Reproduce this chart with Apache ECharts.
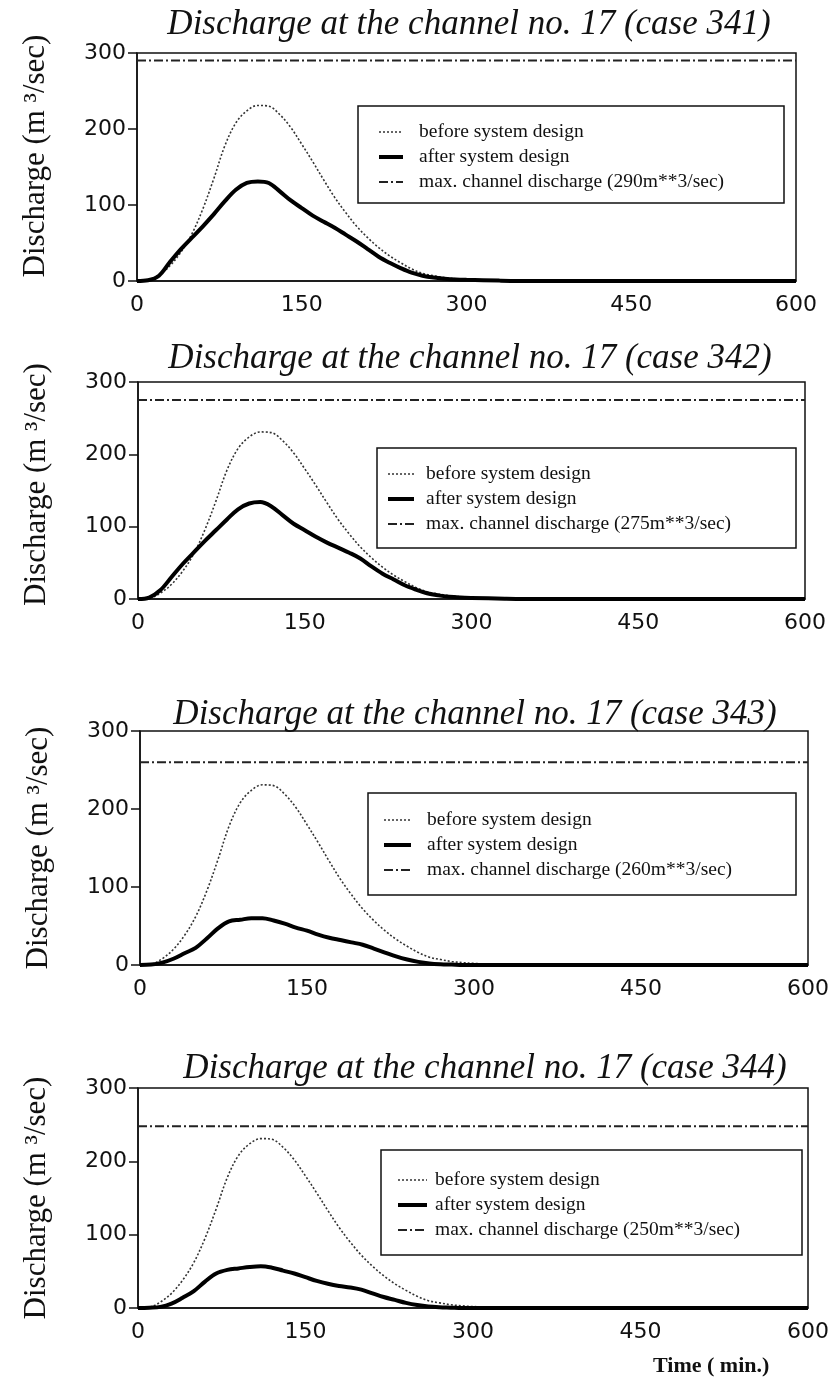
<!DOCTYPE html>
<html>
<head>
<meta charset="utf-8">
<script src="https://cdn.jsdelivr.net/npm/echarts@6/dist/echarts.min.js"></script>
<style>
html,body{margin:0;padding:0;background:#fff;}
#chart{width:832px;height:1383px;}
</style>
</head>
<body>
<div id="chart"></div>
<script>
// ---- data ----
const timeMin = [0,10,20,30,40,50,60,70,80,90,100,110,120,130,140,150,160,170,180,190,200,210,220,230,240,250,260,270,280,290,300,330,360,400,450,500,550,600];
const beforeDesign = [0,1,8,20,38,62,95,135,178,208,224,231,230,219,202,180,157,133,110,90,72,57,44,33,24,16,10,7,4.5,3,2,0.5,0,0,0,0,0,0];
const after341 = [0,1,7,25,42,57,72,88,105,120,129,131,129,118,106,96,86,78,70,61,52,42,32,24,17,11,7,4.5,3,2,1.5,0.5,0,0,0,0,0,0];
const after342 = [0,2,12,30,48,64,80,95,110,124,132,134,128,116,104,95,86,78,71,64,56,45,35,27,19,13,8,5,3,2,1.5,0.5,0,0,0,0,0,0];
const after343 = [0,0.5,3,8,15,22,34,47,56,58,60,60,57,53,48,44,39,35,32,29,26,21,16,11,7,4,2,1,0.5,0,0,0,0,0,0,0,0,0];
const after344 = [0,0.5,1.5,6,14,23,36,47,52,54,56,57,55,51,47,42,37,33,30,28,25,20,15,11,7,4,2,1,0.5,0,0,0,0,0,0,0,0,0];
const caseIds = ["341","342","343","344"];
const maxDischarge = [290, 275, 260, 248];
const maxLegendValue = ["290","275","260","250"];
const afterSets = [after341, after342, after343, after344];
const xTicks = [0,150,300,450,600];
const yTicks = [0,100,200,300];

// ---- layout (pixels) ----
const grids = [
  {left:137, top:53,  width:659, height:228},
  {left:138, top:382, width:667, height:217},
  {left:140, top:731, width:668, height:234},
  {left:138, top:1088,width:675, height:220}
];
const titlePos = [{x:464,y:2},{x:465,y:336},{x:470,y:692},{x:480,y:1046}];
const legendBox = [
  {left:358, top:106, w:424, pt:16, pb:11, pl:19, pr:10, iw:24, tp:11},
  {left:377, top:448, w:417, pt:16, pb:14, pl:9,  pr:10, iw:26, tp:7},
  {left:368, top:793, w:426, pt:17, pb:15, pl:14, pr:10, iw:27, tp:11},
  {left:381, top:1150,w:419, pt:20, pb:15, pl:15, pr:10, iw:29, tp:3}
];
const yNameShift = [22, 12, 0, 0];

const serif = '"Liberation Serif","Times New Roman",serif';
const sans = '"DejaVu Sans",sans-serif';

const pairs = arr => timeMin.map((t,i)=>[t, arr[i]]);

const option = {
  animation:false,
  backgroundColor:'#fff',
  title:[],
  grid:[], xAxis:[], yAxis:[], series:[], legend:[]
};

caseIds.forEach((cid, k) => {
  const g = grids[k];
  option.grid.push({left:g.left, top:g.top, width:g.width, height:g.height,
    show:true, borderColor:'#111', borderWidth:1.5, backgroundColor:'transparent', containLabel:false});
  option.title.push({
    text:'Discharge at the channel no. 17 (case ' + cid + ')',
    left:titlePos[k].x, top:titlePos[k].y, textAlign:'center',
    textStyle:{fontFamily:serif, fontStyle:'italic', fontWeight:'normal', fontSize:35, color:'#111'}
  });
  option.xAxis.push({
    type:'value', gridIndex:k, min:0, max:600, interval:150,
    axisLine:{show:true, lineStyle:{color:'#111', width:1.5}},
    axisTick:{show:false},
    splitLine:{show:false},
    axisLabel:{color:'#111', fontFamily:sans, fontSize:22, margin:13,
      formatter: v => xTicks.includes(v) ? String(v) : ''}
  });
  option.yAxis.push({
    type:'value', gridIndex:k, min:0, max:300, interval:100,
    name:'Discharge (m ³/sec)', nameLocation:'middle', nameGap:86,
    nameTextStyle:{fontFamily:serif, fontSize:31, color:'#111', padding:[0,0,0,yNameShift[k]]},
    axisLine:{show:true, lineStyle:{color:'#111', width:1.5}},
    axisTick:{show:true, inside:false, length:9, lineStyle:{color:'#111', width:1.5}},
    splitLine:{show:false},
    axisLabel:{color:'#111', fontFamily:sans, fontSize:22, margin:11,
      formatter: v => yTicks.includes(v) ? String(v) : ''}
  });
  const maxName = 'max. channel discharge (' + maxLegendValue[k] + 'm**3/sec)';
  option.series.push({
    name:'before system design', type:'line', xAxisIndex:k, yAxisIndex:k,
    data:pairs(beforeDesign), smooth:0.35, symbol:'none',
    lineStyle:{color:'#333', width:1.6, type:[2,2]}, z:3
  });
  option.series.push({
    name:'after system design', type:'line', xAxisIndex:k, yAxisIndex:k,
    data:pairs(afterSets[k]), smooth:0.35, symbol:'none',
    lineStyle:{color:'#000', width:4}, z:4
  });
  option.series.push({
    name:maxName, type:'line', xAxisIndex:k, yAxisIndex:k,
    data:[[0,maxDischarge[k]],[600,maxDischarge[k]]], symbol:'none',
    lineStyle:{color:'#222', width:2, type:[9,3,2,3]}, z:2
  });
  const L = legendBox[k];
  const textW = L.w - L.pl - L.pr - L.iw - 5 - L.tp;
  option.legend.push({
    orient:'vertical', left:L.left, top:L.top,
    padding:[L.pt, L.pr, L.pb, L.pl],
    borderColor:'#111', borderWidth:1.5, backgroundColor:'#fff',
    itemWidth:L.iw, itemHeight:12, itemGap:5,
    selectedMode:false,
    itemStyle:{opacity:0, borderWidth:0},
    data:[
      {name:'before system design', lineStyle:{width:1.6, type:[2,2], color:'#333'}},
      {name:'after system design', lineStyle:{width:4, color:'#000'}},
      {name:maxName, lineStyle:{width:2, type:[9,3,2,3], color:'#222'}}
    ],
    textStyle:{fontFamily:serif, fontSize:19.5, color:'#111', lineHeight:20,
      width:textW, padding:[0,0,0,L.tp]}
  });
});

option.title.push({
  text:'Time ( min.)', left:648, top:1350,
  textStyle:{fontFamily:serif, fontSize:22, fontWeight:'bold', color:'#111'}
});

const chart = echarts.init(document.getElementById('chart'), null, {renderer:'canvas'});
chart.setOption(option);
</script>
</body>
</html>
